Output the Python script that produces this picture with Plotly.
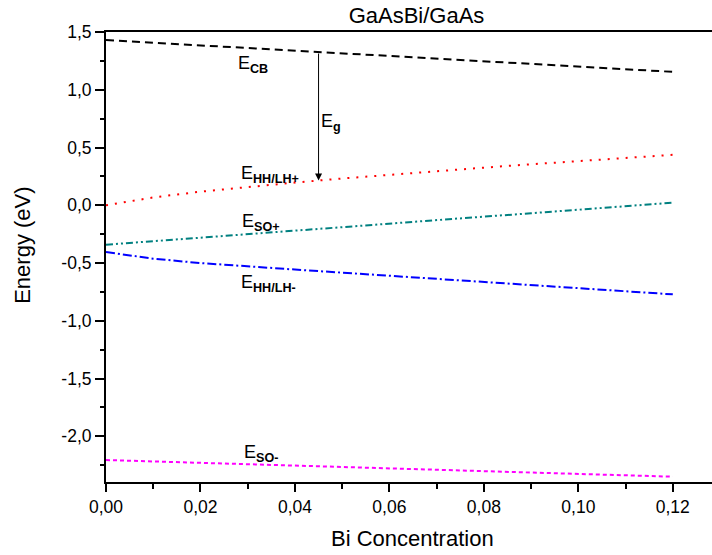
import numpy as np
import plotly.graph_objects as go

# Bi concentration grid
bi_conc = [0.00, 0.01, 0.02, 0.03, 0.04, 0.05, 0.06, 0.07, 0.08, 0.09, 0.10, 0.11, 0.12]

# Band energies (eV)
e_cb = [1.430, 1.407, 1.384, 1.361, 1.338, 1.315, 1.292, 1.270, 1.247, 1.224, 1.201, 1.178, 1.155]
e_hh_lh_plus = [0.000, 0.068, 0.118, 0.160, 0.197, 0.232, 0.265, 0.296, 0.326, 0.355, 0.383, 0.410, 0.437]
e_so_plus = [-0.341, -0.310, -0.279, -0.248, -0.218, -0.188, -0.158, -0.128, -0.098, -0.069, -0.040, -0.009, 0.023]
e_hh_lh_minus = [-0.405, -0.462, -0.500, -0.530, -0.556, -0.583, -0.610, -0.637, -0.664, -0.690, -0.717, -0.744, -0.771]
e_so_minus = [-2.205, -2.217, -2.229, -2.241, -2.253, -2.265, -2.277, -2.289, -2.301, -2.313, -2.325, -2.337, -2.349]

# Axis ticks (comma decimal separator, plain hyphen minus)
x_tick_vals = [0.00, 0.02, 0.04, 0.06, 0.08, 0.10, 0.12]
x_tick_text = ["0,00", "0,02", "0,04", "0,06", "0,08", "0,10", "0,12"]
y_tick_vals = [1.5, 1.0, 0.5, 0.0, -0.5, -1.0, -1.5, -2.0]
y_tick_text = ["1,5", "1,0", "0,5", "0,0", "-0,5", "-1,0", "-1,5", "-2,0"]

# Composition at which the band gap arrow is drawn
gap_x = 0.045

FONT = "Liberation Sans, Arial, sans-serif"

series = [
    (e_cb, "black", "8px,5px"),
    (e_hh_lh_plus, "#ff0000", "2px,7px"),
    (e_so_plus, "#008080", "7px,3px,2px,3px,2px,3px"),
    (e_hh_lh_minus, "#0000ff", "9px,3px,2px,3px"),
    (e_so_minus, "#ff00ff", "4px,3px"),
]

fig = go.Figure()
for ys, color, dash in series:
    fig.add_trace(go.Scatter(
        x=bi_conc, y=ys, mode="lines",
        line=dict(color=color, width=2, dash=dash),
        showlegend=False, hoverinfo="skip",
    ))

label_font = dict(family=FONT, size=18, color="black")
labels = [
    ("E<sub><b>CB</b></sub>", 0.0275, 1.215),
    ("E<sub><b>g</b></sub>", 0.0452, 0.72),
    ("E<sub><b>HH/LH+</b></sub>", 0.0282, 0.27),
    ("E<sub><b>SO+</b></sub>", 0.0284, -0.145),
    ("E<sub><b>HH/LH-</b></sub>", 0.0282, -0.675),
    ("E<sub><b>SO-</b></sub>", 0.0288, -2.145),
]
for text, x, y in labels:
    fig.add_annotation(x=x, y=y, text=text, showarrow=False,
                       xanchor="left", yanchor="middle", font=label_font)

# Band gap arrow from conduction band down to HH/LH+ band
y_top = float(np.interp(gap_x, bi_conc, e_cb))
y_bot = float(np.interp(gap_x, bi_conc, e_hh_lh_plus))
fig.add_annotation(x=gap_x, y=y_bot, ax=gap_x, ay=y_top,
                   xref="x", yref="y", axref="x", ayref="y",
                   showarrow=True, arrowhead=2, arrowsize=1.4,
                   arrowwidth=1, arrowcolor="black", text="")

# Axis titles
fig.add_annotation(text="Energy (eV)", textangle=-90, xref="paper", yref="paper",
                   x=-0.137, y=0.527, xanchor="center", yanchor="middle",
                   showarrow=False, font=dict(family=FONT, size=22, color="black"))
fig.add_annotation(text="Bi Concentration", xref="paper", yref="paper",
                   x=0.506, y=-0.125, xanchor="center", yanchor="middle",
                   showarrow=False, font=dict(family=FONT, size=22, color="black"))

axis_font = dict(family=FONT, size=17.5, color="black")
fig.update_layout(
    width=712, height=555,
    margin=dict(l=106, r=0, t=32, b=73),
    paper_bgcolor="white", plot_bgcolor="white",
    font=dict(family=FONT, color="black"),
    title=dict(text="GaAsBi/GaAs", x=416.5 / 712, xanchor="center", y=0.972, yanchor="middle",
               font=dict(size=22, family=FONT, color="black")),
)
fig.update_xaxes(
    range=[0, 0.1283], tickvals=x_tick_vals, ticktext=x_tick_text,
    showgrid=False, zeroline=False,
    showline=True, linecolor="black", linewidth=2, mirror=True,
    ticks="outside", ticklen=8, tickwidth=1.5, tickcolor="black",
    minor=dict(dtick=0.01, tick0=0, ticks="outside", ticklen=5, tickwidth=1.5, tickcolor="black"),
    tickfont=axis_font,
)
fig.update_yaxes(
    range=[-2.395, 1.5], tickvals=y_tick_vals, ticktext=y_tick_text,
    showgrid=False, zeroline=False,
    showline=True, linecolor="black", linewidth=2,
    ticks="outside", ticklen=9, tickwidth=1.5, tickcolor="black",
    minor=dict(dtick=0.25, tick0=0, ticks="outside", ticklen=4, tickwidth=1.5, tickcolor="black"),
    tickfont=axis_font,
)

fig.write_html("out.html")
